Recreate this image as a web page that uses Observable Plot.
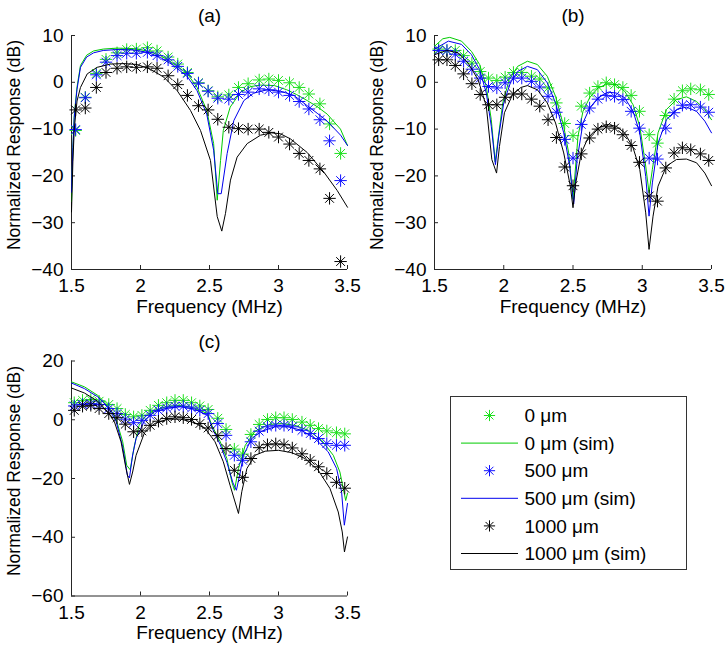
<!DOCTYPE html>
<html>
<head>
<meta charset="utf-8">
<script src="https://cdn.jsdelivr.net/npm/d3@7"></script>
<script src="https://cdn.jsdelivr.net/npm/@observablehq/plot@0.6"></script>
<style>
  html, body { margin: 0; padding: 0; background: #fff; }
  #fig { position: relative; width: 726px; height: 647px; background: #fff; font-family: "Liberation Sans", Arial, sans-serif; }
  #fig svg { position: absolute; overflow: visible; }
</style>
</head>
<body>
<div id="fig"></div>
<script>
// ---------- data ----------
const xTicks = [1.5, 2, 2.5, 3, 3.5];
const yTicksAB = [10, 0, -10, -20, -30, -40];
const yTicksC = [20, 0, -20, -40, -60];
const titles = ["(a)", "(b)", "(c)"];
const xLabel = "Frequency (MHz)";
const yLabel = "Normalized Response (dB)";
const legendLabels = ["0 μm", "0 μm (sim)", "500 μm", "500 μm (sim)", "1000 μm", "1000 μm (sim)"];

// panel (a) measured
const freqA = [1.53,1.60,1.68,1.75,1.83,1.90,1.97,2.05,2.12,2.20,2.27,2.34,2.42,2.49,2.56,2.64,2.71,2.78,2.86,2.93,3.00,3.08,3.15,3.22,3.30,3.37,3.45];
const measA_0    = [-10.3,-3.2,1.9,4.9,6.3,7.0,7.1,7.4,6.7,5.4,3.9,2.1,-0.1,-1.8,-3.1,-2.7,-1.1,-0.3,0.5,0.7,0.4,-0.1,-1.1,-2.5,-4.6,-8.9,-15.2];
const measA_500  = [-10.1,-3.3,1.6,4.3,5.7,6.2,6.2,6.4,5.7,4.8,3.4,1.9,-0.2,-1.9,-3.4,-3.6,-2.6,-2.1,-1.4,-1.6,-2.1,-2.8,-4.1,-5.7,-8.0,-12.5,-21.0];
const measA_1000 = [-5.9,-5.5,-1.1,2.1,3.0,3.3,3.2,3.3,3.0,1.4,-0.5,-2.8,-5.0,-5.9,-7.9,-9.6,-9.9,-10.0,-10.0,-10.7,-11.7,-13.2,-15.2,-16.7,-18.5,-24.8,-38.3];
// panel (a) simulated [MHz, dB]
const simA_0 = [[1.50,-25.5],[1.51,-14],[1.52,-7],[1.54,-1],[1.565,3.6],[1.61,5.8],[1.66,6.7],[1.73,7.1],[1.83,7.3],[1.95,7.2],[2.05,6.7],[2.145,5.7],[2.24,4.0],[2.34,1.8],[2.41,-1.1],[2.48,-6.0],[2.53,-13.1],[2.556,-25.2],[2.58,-16.7],[2.60,-10.3],[2.65,-5.3],[2.725,-2.1],[2.80,-0.9],[2.87,-0.6],[2.97,-0.7],[3.06,-1.6],[3.13,-2.6],[3.208,-3.9],[3.28,-5.2],[3.353,-6.8],[3.449,-10.0],[3.50,-13.5]];
const simA_500 = [[1.50,-23.5],[1.51,-14],[1.52,-7.5],[1.54,-1.5],[1.565,3.2],[1.61,5.4],[1.66,6.3],[1.73,6.8],[1.83,7.0],[1.95,6.9],[2.05,6.4],[2.145,5.3],[2.24,3.6],[2.34,1.2],[2.41,-1.8],[2.48,-6.8],[2.53,-14.5],[2.56,-23.8],[2.585,-23.8],[2.628,-15.2],[2.676,-8.2],[2.749,-3.9],[2.821,-2.3],[2.918,-1.6],[3.014,-1.9],[3.111,-2.8],[3.208,-5.0],[3.28,-6.6],[3.353,-8.3],[3.45,-11.3],[3.50,-13.5]];
const simA_1000 = [[1.50,-27.7],[1.51,-17],[1.52,-10],[1.54,-4],[1.565,-1.1],[1.614,1.8],[1.686,3.2],[1.783,3.9],[1.879,4.0],[1.976,3.8],[2.072,2.8],[2.169,1.1],[2.266,-1.8],[2.362,-6.0],[2.435,-10.3],[2.507,-16.7],[2.556,-28.7],[2.589,-31.8],[2.616,-28.0],[2.652,-20.9],[2.70,-16.0],[2.773,-13.1],[2.87,-11.3],[2.95,-10.8],[3.014,-11.0],[3.087,-12.1],[3.208,-15.0],[3.329,-19.2],[3.425,-23.1],[3.50,-26.7]];

// panel (b) measured
const freqB = [1.53,1.59,1.65,1.71,1.77,1.83,1.89,1.95,2.01,2.07,2.13,2.20,2.26,2.32,2.38,2.44,2.50,2.56,2.62,2.68,2.74,2.80,2.86,2.92,2.98,3.05,3.11,3.17,3.23,3.29,3.35,3.42,3.48];
const measB_0    = [7.1,6.8,6.8,5.7,4.1,2.3,0.9,0.4,1.1,2.1,2.1,1.3,0.7,-1.2,-4.4,-8.8,-11.4,-5.1,-2.3,-0.9,-0.1,-0.5,-1.1,-2.8,-6.2,-11.2,-13.0,-7.1,-3.6,-1.8,-1.4,-1.6,-2.6];
const measB_500  = [6.8,6.8,6.0,4.5,2.8,0.9,-0.9,-1.2,-0.1,0.9,0.9,0.2,-1.0,-3.0,-6.4,-12.2,-16.2,-9.0,-5.5,-3.6,-2.8,-3.0,-3.7,-6.2,-9.8,-16.2,-16.4,-9.8,-6.5,-4.9,-4.8,-5.3,-6.4];
const measB_1000 = [4.8,4.8,3.6,1.8,-0.3,-2.6,-4.8,-4.8,-3.2,-2.5,-2.5,-3.6,-5.1,-8.0,-11.8,-18.1,-22.1,-15.3,-11.9,-10.0,-9.5,-9.8,-11.2,-13.5,-17.1,-24.3,-25.4,-18.3,-15.1,-14.0,-14.4,-15.3,-16.7];
// panel (b) simulated
const simB_0 = [[1.50,7.7],[1.56,9.3],[1.61,9.6],[1.695,8.8],[1.767,6.6],[1.826,3.8],[1.874,-0.9],[1.91,-8.0],[1.938,-17.0],[1.962,-11.5],[1.993,-4.4],[2.04,0.6],[2.10,3.4],[2.171,4.5],[2.243,3.8],[2.314,1.3],[2.374,-3.0],[2.433,-9.4],[2.469,-15.1],[2.50,-25.0],[2.536,-11.5],[2.572,-6.2],[2.62,-3.3],[2.681,-1.2],[2.753,-0.3],[2.813,-0.5],[2.873,-1.9],[2.934,-4.8],[2.982,-9.4],[3.025,-17.9],[3.049,-23.6],[3.073,-18.6],[3.114,-10.8],[3.175,-5.8],[3.247,-3.7],[3.319,-3.1],[3.392,-4.1],[3.452,-5.8],[3.50,-8.0]];
const simB_500 = [[1.50,7.1],[1.60,8.8],[1.695,8.1],[1.767,5.9],[1.826,2.7],[1.874,-2.3],[1.91,-9.4],[1.94,-17.6],[1.964,-11.5],[2.0,-4.4],[2.048,-0.1],[2.10,2.3],[2.171,3.4],[2.243,2.7],[2.314,-0.1],[2.374,-4.4],[2.433,-10.8],[2.476,-17.9],[2.505,-26.0],[2.53,-16.5],[2.572,-8.7],[2.62,-5.5],[2.681,-3.3],[2.753,-2.1],[2.813,-2.3],[2.873,-3.3],[2.934,-6.2],[2.982,-10.8],[3.025,-20.1],[3.049,-28.6],[3.073,-21.5],[3.114,-13.0],[3.175,-8.0],[3.247,-5.8],[3.319,-5.3],[3.392,-6.2],[3.452,-8.3],[3.50,-10.8]];
const simB_1000 = [[1.50,5.9],[1.588,6.8],[1.671,6.3],[1.743,4.1],[1.814,0.6],[1.874,-5.1],[1.914,-16.5],[1.948,-19.4],[1.969,-13.7],[2.005,-6.5],[2.064,-2.6],[2.124,-1.1],[2.171,-0.7],[2.243,-1.6],[2.314,-4.4],[2.374,-8.7],[2.433,-15.1],[2.481,-22.2],[2.50,-26.8],[2.52,-21.5],[2.56,-15.1],[2.608,-11.9],[2.669,-10.0],[2.741,-9.0],[2.813,-9.4],[2.873,-10.8],[2.934,-14.0],[2.982,-18.6],[3.025,-27.9],[3.049,-35.7],[3.078,-28.6],[3.114,-22.2],[3.175,-17.9],[3.247,-16.5],[3.319,-16.4],[3.392,-17.2],[3.452,-19.4],[3.50,-22.1]];

// panel (c) measured
const freqC = [1.52,1.58,1.64,1.70,1.77,1.83,1.89,1.95,2.01,2.07,2.13,2.19,2.25,2.31,2.37,2.43,2.49,2.56,2.62,2.68,2.74,2.80,2.86,2.92,2.98,3.04,3.10,3.17,3.23,3.29,3.35,3.42,3.48];
const measC_0    = [5.8,6.6,6.9,6.3,5.2,3.8,1.8,1.0,1.5,3.2,4.9,5.8,6.6,6.6,5.8,4.7,3.5,0.5,-3.3,-10.0,-11.7,-5.0,-1.6,0.1,0.7,0.7,0.1,-0.8,-1.9,-3.0,-3.8,-4.4,-4.8];
const measC_500  = [4.7,5.2,5.5,5.2,3.8,2.1,0.2,-1.0,-0.2,1.5,3.2,4.0,4.6,4.6,4.0,3.2,2.1,-1.3,-5.3,-12.1,-13.8,-7.5,-3.9,-2.4,-1.9,-1.9,-2.4,-3.6,-4.7,-6.4,-8.1,-8.7,-8.7];
const measC_1000 = [3.2,4.6,4.9,3.8,2.1,0.7,-1.5,-4.1,-3.8,-1.9,-0.5,0.4,1.0,0.7,0.1,-1.3,-2.8,-5.4,-9.8,-17.2,-19.6,-13.2,-9.5,-8.5,-8.2,-8.5,-9.6,-11.6,-13.8,-16.0,-18.3,-21.3,-23.3];
// panel (c) simulated
const simC_0 = [[1.50,12.9],[1.594,11.2],[1.69,8.3],[1.763,4.9],[1.823,0.2],[1.871,-7.5],[1.90,-15.5],[1.925,-17.0],[1.955,-9.0],[1.99,-1.9],[2.03,1.0],[2.10,3.2],[2.197,4.6],[2.294,4.9],[2.391,4.0],[2.487,2.1],[2.517,-1.9],[2.578,-7.5],[2.626,-13.2],[2.662,-21.2],[2.681,-24.0],[2.71,-16.6],[2.759,-8.7],[2.83,-3.9],[2.927,-1.6],[3.023,-1.3],[3.119,-1.9],[3.216,-3.6],[3.313,-7.0],[3.397,-12.1],[3.445,-17.8],[3.469,-23.4],[3.487,-27.5],[3.50,-25.0]];
const simC_500 = [[1.50,12.5],[1.594,10.6],[1.69,7.8],[1.763,4.4],[1.823,-0.5],[1.871,-9.2],[1.905,-18.9],[1.92,-19.8],[1.943,-12.0],[1.968,-6.4],[2.03,-0.2],[2.10,2.7],[2.197,4.0],[2.294,4.4],[2.391,3.6],[2.487,1.5],[2.517,-2.6],[2.578,-8.5],[2.626,-14.5],[2.67,-21.5],[2.695,-24.0],[2.72,-18.5],[2.746,-12.1],[2.806,-6.4],[2.879,-3.9],[2.975,-2.4],[3.07,-2.4],[3.168,-3.6],[3.264,-6.4],[3.36,-10.9],[3.421,-16.6],[3.457,-24.5],[3.477,-35.9],[3.50,-28.5]];
const simC_1000 = [[1.50,10.8],[1.594,9.1],[1.69,6.3],[1.763,2.7],[1.811,-0.7],[1.859,-7.5],[1.895,-16.6],[1.92,-22.0],[1.943,-17.8],[1.968,-12.1],[2.029,-4.4],[2.101,-1.3],[2.197,0.2],[2.294,0.2],[2.391,-1.0],[2.469,-3.0],[2.54,-7.5],[2.60,-14.3],[2.649,-22.3],[2.71,-31.9],[2.734,-24.5],[2.771,-16.6],[2.83,-12.1],[2.903,-10.7],[3.0,-10.4],[3.096,-11.2],[3.192,-13.2],[3.288,-17.2],[3.373,-23.4],[3.433,-31.4],[3.462,-38.2],[3.478,-45.0],[3.50,-39.9]];

// ---------- styling ----------
const FONT = '"Liberation Sans", Arial, Helvetica, sans-serif';
const COL = {
  g: {star: "#1fe01f", line: "#00cc00"},
  b: {star: "#1010ff", line: "#0000ee"},
  k: {star: "#000000", line: "#000000"}
};
const AX = "#262626";

// 8-spoke asterisk (MATLAB '*')
const star8 = {
  draw(ctx, size) {
    const r = Math.sqrt(size / Math.PI), d = r * Math.SQRT1_2;
    ctx.moveTo(-r, 0); ctx.lineTo(r, 0);
    ctx.moveTo(0, -r); ctx.lineTo(0, r);
    ctx.moveTo(-d, -d); ctx.lineTo(d, d);
    ctx.moveTo(-d, d); ctx.lineTo(d, -d);
  }
};

const fmt = d => (d < 0 ? "\u2212" + Math.abs(d) : String(d));
const fig = document.getElementById("fig");

function panel(cfg) {
  const rows = (f, v) => f.map((x, i) => ({f: x, db: v[i]}));
  const pts = a => a.map(([f, db]) => ({f, db}));
  const [y0] = cfg.yDomain;
  const dotOpts = c => ({x: "f", y: "db", symbol: star8, r: 6.2, stroke: c, fill: "none", strokeWidth: 1});
  const lineOpts = c => ({x: "f", y: "db", stroke: c, strokeWidth: 1});
  const svg = Plot.plot({
    width: cfg.width, height: cfg.height,
    marginTop: cfg.mt, marginBottom: cfg.mb, marginLeft: cfg.ml, marginRight: cfg.mr,
    x: {domain: [1.5, 3.5]},
    y: {domain: cfg.yDomain},
    style: {fontFamily: FONT, fontSize: "19px", color: "#000", background: "transparent", overflow: "visible"},
    marks: [
      Plot.ruleX([1.5], {stroke: AX}),
      Plot.ruleY([y0], {stroke: AX}),
      Plot.axisX({ticks: xTicks, tickFormat: fmt, tickSize: -4, tickPadding: 13, stroke: AX, fill: "#000", label: null, fontSize: 19}),
      Plot.axisY({ticks: cfg.yTicks, tickFormat: fmt, tickSize: -4, tickPadding: 12, stroke: AX, fill: "#000", label: null, fontSize: 19}),
      Plot.dot(rows(cfg.freq, cfg.m0), dotOpts(COL.g.star)),
      Plot.line(pts(cfg.s0), lineOpts(COL.g.line)),
      Plot.dot(rows(cfg.freq, cfg.m500), dotOpts(COL.b.star)),
      Plot.line(pts(cfg.s500), lineOpts(COL.b.line)),
      Plot.dot(rows(cfg.freq, cfg.m1000), dotOpts(COL.k.star)),
      Plot.line(pts(cfg.s1000), lineOpts(COL.k.line)),
      Plot.text([cfg.title], {text: d => d, frameAnchor: "top", dy: cfg.titleDy, lineAnchor: "middle", fontSize: 19}),
      Plot.text([xLabel], {text: d => d, frameAnchor: "bottom", dy: 37, lineAnchor: "middle", fontSize: 19})
    ]
  });
  // rotated y-axis title
  const frameMid = cfg.mt + (cfg.height - cfg.mt - cfg.mb) / 2;
  d3.select(svg).append("text")
    .attr("transform", `translate(14.5,${frameMid - 7}) rotate(-90)`)
    .attr("text-anchor", "middle").attr("dy", "0.32em")
    .attr("font-family", FONT).attr("font-size", 17.5).attr("fill", "#000")
    .text(yLabel);
  svg.style.left = cfg.left + "px";
  svg.style.top = cfg.top + "px";
  fig.appendChild(svg);
}

panel({left: 0, top: 0, width: 363, height: 320, mt: 35, mb: 51, ml: 71, mr: 16,
  yDomain: [-40, 10], yTicks: yTicksAB, title: titles[0], titleDy: -20,
  freq: freqA, m0: measA_0, m500: measA_500, m1000: measA_1000, s0: simA_0, s500: simA_500, s1000: simA_1000});
panel({left: 363, top: 0, width: 363, height: 320, mt: 35, mb: 51, ml: 71, mr: 15,
  yDomain: [-40, 10], yTicks: yTicksAB, title: titles[1], titleDy: -20,
  freq: freqB, m0: measB_0, m500: measB_500, m1000: measB_1000, s0: simB_0, s500: simB_500, s1000: simB_1000});
panel({left: 0, top: 320, width: 363, height: 327, mt: 40.5, mb: 51.5, ml: 71, mr: 16,
  yDomain: [-60, 20], yTicks: yTicksC, title: titles[2], titleDy: -19,
  freq: freqC, m0: measC_0, m500: measC_500, m1000: measC_1000, s0: simC_0, s500: simC_500, s1000: simC_1000});

// ---------- legend ----------
const legendKinds = ["star", "line", "star", "line", "star", "line"];
const legendColors = [COL.g.star, COL.g.line, COL.b.star, COL.b.line, COL.k.star, COL.k.line];
const lg = d3.create("svg").attr("width", 237).attr("height", 174)
  .style("left", "450px").style("top", "395.5px");
lg.append("rect").attr("x", 0.5).attr("y", 0.5).attr("width", 236).attr("height", 173)
  .attr("fill", "#fff").attr("stroke", "#333").attr("stroke-width", 1);
const rowY = i => 19.5 + i * 27.6;
const starPath = d3.symbol(star8, Math.PI * 5.6 * 5.6)();
legendLabels.forEach((lab, i) => {
  const y = rowY(i);
  if (legendKinds[i] === "star") {
    lg.append("path").attr("d", starPath).attr("transform", `translate(39.5,${y})`)
      .attr("fill", "none").attr("stroke", legendColors[i]).attr("stroke-width", 1);
  } else {
    lg.append("line").attr("x1", 11).attr("x2", 68).attr("y1", y).attr("y2", y)
      .attr("stroke", legendColors[i]).attr("stroke-width", 1);
  }
  lg.append("text").attr("x", 74.5).attr("y", y).attr("dy", "0.35em")
    .attr("font-family", FONT).attr("font-size", 19).attr("fill", "#000").text(lab);
});
fig.appendChild(lg.node());
</script>
</body>
</html>
